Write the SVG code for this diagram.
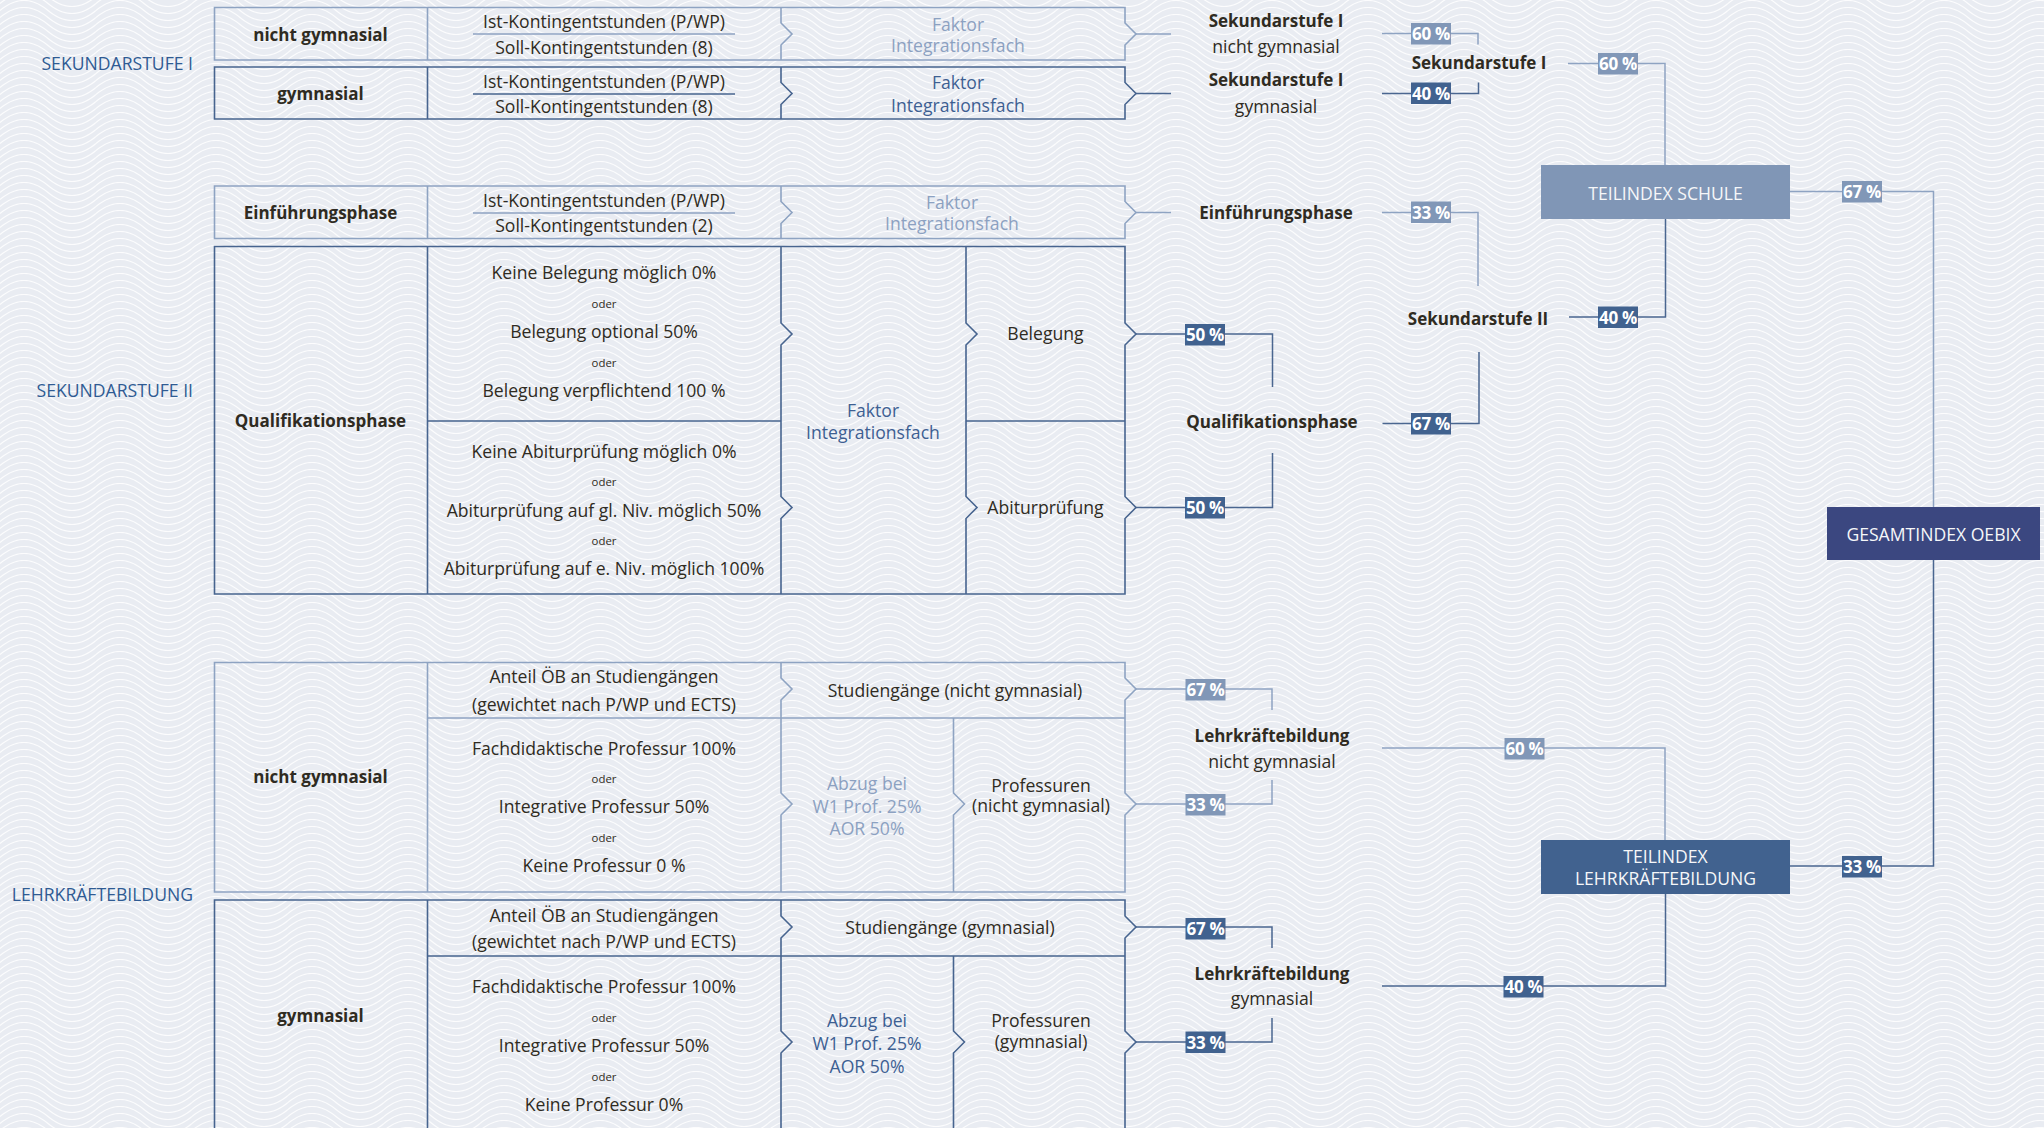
<svg xmlns="http://www.w3.org/2000/svg" width="2044" height="1128" viewBox="0 0 2044 1128">
<defs>
<pattern id="wave" patternUnits="userSpaceOnUse" width="96" height="7">
<g fill="none" stroke="#ffffff" stroke-width="1.2" stroke-opacity="0.85">
<path d="M0 3.5 Q24 -16.5 48 3.5 T96 3.5"/>
<path d="M0 -3.5 Q24 -23.5 48 -3.5 T96 -3.5"/>
<path d="M0 10.5 Q24 -9.5 48 10.5 T96 10.5"/>
<path d="M0 17.5 Q24 -2.5 48 17.5 T96 17.5"/>
<path d="M0 -10.5 Q24 -30.5 48 -10.5 T96 -10.5"/>
</g>
</pattern>
<style>
.t{font-family:"Open Sans","Noto Sans","Liberation Sans",sans-serif;font-size:17.6px;fill:#2f2b22;text-anchor:middle}
.b{font-weight:700;font-size:17px}
.sm{font-size:11.4px}
.fl{fill:#8ca1c1}
.fd{fill:#3d5f92}
.sec{fill:#2f5b93;text-anchor:end;font-size:17.6px}
.wh{fill:#f6f7f9}
.bl{stroke:#8ea3c2;stroke-width:1.6;fill:none}
.bd{stroke:#47648f;stroke-width:1.6;fill:none}
.cl{stroke:#8ea3c2;stroke-width:1.5;fill:none}
.cd{stroke:#4a6690;stroke-width:1.5;fill:none}
.gl{fill:#8197b7}
.gd{fill:#41628f}
.bt{font-family:"Open Sans","Noto Sans","Liberation Sans",sans-serif;font-weight:700;font-size:17px;letter-spacing:-0.3px;fill:#ffffff;text-anchor:middle}
</style>
</defs>
<rect x="0" y="0" width="2044" height="1128" fill="#e9ecf2"/>
<rect x="0" y="0" width="2044" height="1128" fill="url(#wave)"/>

<g id="section-labels">
<text class="t sec" x="193" y="70">SEKUNDARSTUFE I</text>
<text class="t sec" x="193" y="396.5">SEKUNDARSTUFE II</text>
<text class="t sec" x="193" y="901">LEHRKRÄFTEBILDUNG</text>
</g>

<g id="connectors">
<path class="cl" d="M1136 34 H1171"/>
<path class="cl" d="M1136 212.5 H1171"/>
<path class="cl" d="M1382 33.5 H1478 V44.5"/>
<path class="cl" d="M1382 212.5 H1478 V286"/>
<path class="cl" d="M1568 63.5 H1665 V165"/>
<path class="cl" d="M1790 191.5 H1933.5 V507"/>
<path class="cl" d="M1136 689 H1272 V710"/>
<path class="cl" d="M1136 804 H1272 V780"/>
<path class="cl" d="M1382 748 H1665 V840"/>
<path class="cd" d="M1136 93.5 H1171"/>
<path class="cd" d="M1382 93.5 H1478.5 V82.5"/>
<path class="cd" d="M1136 334 H1272.5 V387"/>
<path class="cd" d="M1136 507.5 H1272.5 V453"/>
<path class="cd" d="M1382.5 423.5 H1479 V352"/>
<path class="cd" d="M1569 317 H1665.5 V219"/>
<path class="cd" d="M1790 866 H1933.5 V560"/>
<path class="cd" d="M1136 927 H1272 V948"/>
<path class="cd" d="M1136 1042 H1272 V1018"/>
<path class="cd" d="M1382 986 H1665.5 V894"/>
</g>

<g id="row-sek1-nichtgym">
<path class="bl" d="M214.5 7.5 H1125 V23 L1136 34 L1125 45 V60 H214.5 Z M427.5 7.5 V60 M781 7.5 V23 L792 34 L781 45 V60 M473 34 H735"/>
<text class="t b" x="320.5" y="40.5">nicht gymnasial</text>
<text class="t" x="604" y="28">Ist-Kontingentstunden (P/WP)</text>
<text class="t" x="604" y="53.5">Soll-Kontingentstunden (8)</text>
<text class="t fl" x="958" y="30.5">Faktor</text>
<text class="t fl" x="958" y="52">Integrationsfach</text>
</g>

<g id="row-sek1-gym">
<path class="bd" d="M214.5 67 H1125 V82.5 L1136 93.5 L1125 104.5 V119 H214.5 Z M427.5 67 V119 M781 67 V82.5 L792 93.5 L781 104.5 V119 M473 94 H735"/>
<text class="t b" x="320.5" y="100">gymnasial</text>
<text class="t" x="604" y="87.5">Ist-Kontingentstunden (P/WP)</text>
<text class="t" x="604" y="113">Soll-Kontingentstunden (8)</text>
<text class="t fd" x="958" y="89">Faktor</text>
<text class="t fd" x="958" y="111.5">Integrationsfach</text>
</g>

<g id="row-einfuehrungsphase">
<path class="bl" d="M214.5 186 H1125 V201.5 L1136 212.5 L1125 223.5 V238.5 H214.5 Z M427.5 186 V238.5 M781 186 V201.5 L792 212.5 L781 223.5 V238.5 M473 213 H735"/>
<text class="t b" x="320.5" y="218.5">Einführungsphase</text>
<text class="t" x="604" y="207">Ist-Kontingentstunden (P/WP)</text>
<text class="t" x="604" y="232">Soll-Kontingentstunden (2)</text>
<text class="t fl" x="952" y="208.5">Faktor</text>
<text class="t fl" x="952" y="230">Integrationsfach</text>
</g>

<g id="row-qualifikationsphase">
<path class="bd" d="M214.5 246.5 H1125 V323 L1136 334 L1125 345 V496.5 L1136 507.5 L1125 518.5 V594 H214.5 Z M427.5 246.5 V594 M781 246.5 V323 L792 334 L781 345 V496.5 L792 507.5 L781 518.5 V594 M966 246.5 V323 L977 334 L966 345 V496.5 L977 507.5 L966 518.5 V594 M427.5 421 H781 M966 421 H1125"/>
<text class="t b" x="320.5" y="426.5">Qualifikationsphase</text>
<text class="t" x="604" y="279">Keine Belegung möglich 0%</text>
<text class="t sm" x="604" y="308">oder</text>
<text class="t" x="604" y="338">Belegung optional 50%</text>
<text class="t sm" x="604" y="367">oder</text>
<text class="t" x="604" y="397">Belegung verpflichtend 100 %</text>
<text class="t" x="604" y="458">Keine Abiturprüfung möglich 0%</text>
<text class="t sm" x="604" y="486">oder</text>
<text class="t" x="604" y="517">Abiturprüfung auf gl. Niv. möglich 50%</text>
<text class="t sm" x="604" y="545">oder</text>
<text class="t" x="604" y="575">Abiturprüfung auf e. Niv. möglich 100%</text>
<text class="t fd" x="873" y="416.5">Faktor</text>
<text class="t fd" x="873" y="439">Integrationsfach</text>
<text class="t" x="1045.5" y="340">Belegung</text>
<text class="t" x="1045.5" y="514">Abiturprüfung</text>
</g>

<g id="row-lkb-nichtgym">
<path class="bl" d="M214.5 662.5 H1125 V678 L1136 689 L1125 700 V793 L1136 804 L1125 815 V892 H214.5 Z M427.5 662.5 V892 M781 662.5 V678 L792 689 L781 700 V793 L792 804 L781 815 V892 M953.5 718 V793 L964.5 804 L953.5 815 V892 M427.5 718 H1125"/>
<text class="t b" x="320.5" y="783">nicht gymnasial</text>
<text class="t" x="604" y="683">Anteil ÖB an Studiengängen</text>
<text class="t" x="604" y="711">(gewichtet nach P/WP und ECTS)</text>
<text class="t" x="604" y="755">Fachdidaktische Professur 100%</text>
<text class="t sm" x="604" y="783">oder</text>
<text class="t" x="604" y="813">Integrative Professur 50%</text>
<text class="t sm" x="604" y="842">oder</text>
<text class="t" x="604" y="872">Keine Professur 0 %</text>
<text class="t" x="955" y="696.5">Studiengänge (nicht gymnasial)</text>
<text class="t fl" x="867" y="790">Abzug bei</text>
<text class="t fl" x="867" y="812.5">W1 Prof. 25%</text>
<text class="t fl" x="867" y="835">AOR 50%</text>
<text class="t" x="1041" y="791.5">Professuren</text>
<text class="t" x="1041" y="811.5">(nicht gymnasial)</text>
</g>

<g id="row-lkb-gym">
<path class="bd" d="M214.5 900 H1125 V916 L1136 927 L1125 938 V1031 L1136 1042 L1125 1053 V1140 H214.5 Z M427.5 900 V1140 M781 900 V916 L792 927 L781 938 V1031 L792 1042 L781 1053 V1140 M953.5 956 V1031 L964.5 1042 L953.5 1053 V1140 M427.5 956 H1125"/>
<text class="t b" x="320.5" y="1022">gymnasial</text>
<text class="t" x="604" y="922">Anteil ÖB an Studiengängen</text>
<text class="t" x="604" y="948">(gewichtet nach P/WP und ECTS)</text>
<text class="t" x="604" y="993">Fachdidaktische Professur 100%</text>
<text class="t sm" x="604" y="1021.5">oder</text>
<text class="t" x="604" y="1051.5">Integrative Professur 50%</text>
<text class="t sm" x="604" y="1081">oder</text>
<text class="t" x="604" y="1111">Keine Professur 0%</text>
<text class="t" x="950" y="934">Studiengänge (gymnasial)</text>
<text class="t fd" x="867" y="1027">Abzug bei</text>
<text class="t fd" x="867" y="1050">W1 Prof. 25%</text>
<text class="t fd" x="867" y="1072.5">AOR 50%</text>
<text class="t" x="1041" y="1027">Professuren</text>
<text class="t" x="1041" y="1048">(gymnasial)</text>
</g>

<g id="label-sek1-nichtgym">
<text class="t b" x="1276" y="26.5">Sekundarstufe I</text>
<text class="t" x="1276" y="53">nicht gymnasial</text>
</g>
<g id="label-sek1-gym">
<text class="t b" x="1276" y="86">Sekundarstufe I</text>
<text class="t" x="1276" y="112.5">gymnasial</text>
</g>
<g id="label-einf">
<text class="t b" x="1276" y="219">Einführungsphase</text>
</g>
<g id="label-qual">
<text class="t b" x="1272" y="428">Qualifikationsphase</text>
</g>
<g id="label-sek1">
<text class="t b" x="1479" y="69">Sekundarstufe I</text>
</g>
<g id="label-sek2">
<text class="t b" x="1478" y="325">Sekundarstufe II</text>
</g>
<g id="label-lkb-nichtgym">
<text class="t b" x="1272" y="742">Lehrkräftebildung</text>
<text class="t" x="1272" y="768">nicht gymnasial</text>
</g>
<g id="label-lkb-gym">
<text class="t b" x="1272" y="979.5">Lehrkräftebildung</text>
<text class="t" x="1272" y="1005">gymnasial</text>
</g>

<g id="teilindex-schule">
<rect x="1541" y="165" width="249" height="54" fill="#8096b6"/>
<text class="t wh" x="1665.5" y="199.5">TEILINDEX SCHULE</text>
</g>
<g id="gesamtindex">
<rect x="1827" y="507" width="213" height="53" fill="#3b4780"/>
<text class="t wh" x="1933.5" y="541">GESAMTINDEX OEBIX</text>
</g>
<g id="teilindex-lkb">
<rect x="1541" y="840" width="249" height="54" fill="#41628f"/>
<text class="t wh" x="1665.5" y="862.5">TEILINDEX</text>
<text class="t wh" x="1665.5" y="884.5">LEHRKRÄFTEBILDUNG</text>
</g>

<g id="badges">
<rect class="gl" x="1411" y="23" width="40" height="21.5"/>
<text class="bt" x="1431" y="40">60 %</text>
<rect class="gd" x="1411" y="82.5" width="40" height="21.5"/>
<text class="bt" x="1431" y="99.5">40 %</text>
<rect class="gl" x="1598" y="53" width="40" height="21.5"/>
<text class="bt" x="1618" y="70">60 %</text>
<rect class="gl" x="1842" y="181" width="40" height="21.5"/>
<text class="bt" x="1862" y="198">67 %</text>
<rect class="gl" x="1411" y="201.5" width="40" height="21.5"/>
<text class="bt" x="1431" y="218.5">33 %</text>
<rect class="gd" x="1598" y="306.5" width="40" height="21.5"/>
<text class="bt" x="1618" y="323.5">40 %</text>
<rect class="gd" x="1185" y="324" width="40" height="21.5"/>
<text class="bt" x="1205" y="341">50 %</text>
<rect class="gd" x="1411" y="413" width="40" height="21.5"/>
<text class="bt" x="1431" y="430">67 %</text>
<rect class="gd" x="1185" y="497" width="40" height="21.5"/>
<text class="bt" x="1205" y="514">50 %</text>
<rect class="gl" x="1185.5" y="679" width="40" height="21.5"/>
<text class="bt" x="1205.5" y="696">67 %</text>
<rect class="gl" x="1504.5" y="738" width="40" height="21.5"/>
<text class="bt" x="1524.5" y="755">60 %</text>
<rect class="gl" x="1185.5" y="794" width="40" height="21.5"/>
<text class="bt" x="1205.5" y="811">33 %</text>
<rect class="gd" x="1842" y="856" width="40" height="21.5"/>
<text class="bt" x="1862" y="873">33 %</text>
<rect class="gd" x="1185.5" y="918" width="40" height="21.5"/>
<text class="bt" x="1205.5" y="935">67 %</text>
<rect class="gd" x="1503.5" y="976" width="40" height="21.5"/>
<text class="bt" x="1523.5" y="993">40 %</text>
<rect class="gd" x="1185.5" y="1031.5" width="40" height="21.5"/>
<text class="bt" x="1205.5" y="1048.5">33 %</text>
</g>
</svg>
